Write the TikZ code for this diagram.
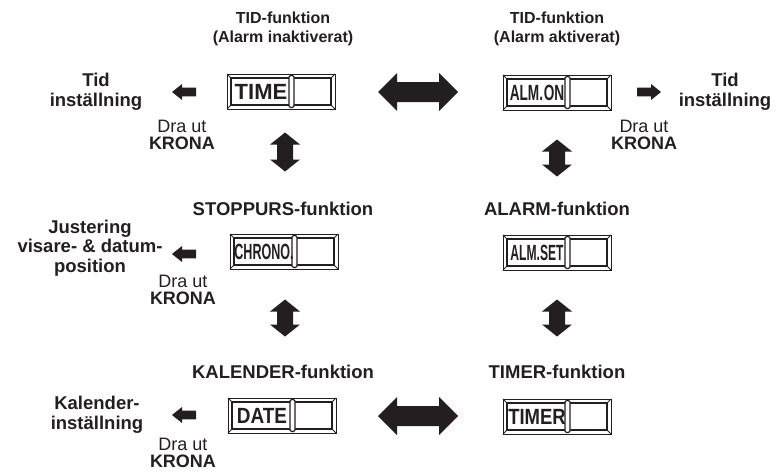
\documentclass[tikz,border=0pt]{standalone}
\usepackage{fontspec}
\setmainfont{Liberation Sans}
\definecolor{ink}{HTML}{231F20}

\tikzset{
  title/.style={font=\bfseries\fontsize{16}{18.5}\selectfont, align=center, text=ink, inner sep=0pt},
  bigtitle/.style={font=\bfseries\fontsize{18.5}{20}\selectfont, align=center, text=ink, inner sep=0pt},
  side/.style={font=\bfseries\fontsize{18.5}{19.5}\selectfont, align=center, text=ink, inner sep=0pt},
  pull/.style={font=\fontsize{18}{17}\selectfont, align=center, text=ink, inner sep=0pt},
  frame/.style={draw=ink, line width=0.9pt},
  lcdtext/.style={font=\bfseries\fontsize{22}{22}\selectfont, text=ink, inner sep=0pt},
  arrowfill/.style={fill=ink},
}

% watch-mode display: bevelled window with a slider bar
% #1 node name, #2 left, #3 top, #4 text, #5 horizontal squeeze
\newcommand\lcdwin[5]{%
  \begin{scope}[shift={(#2,#3)}]
    \draw[frame] (0,0) rectangle (108,35);
    \draw[frame, line width=1.3pt] (4,4) rectangle (104,31);
    \draw[frame] (0,0) -- (4,4) (108,0) -- (104,4) (0,35) -- (4,31) (108,35) -- (104,31);
    \draw[frame, line width=1.1pt, fill=white, rounded corners=1.5pt] (62,1.5) rectangle (67,33.5);
    \node[lcdtext] (#1) at (34,17.5) {\scalebox{#5}[1]{#4}};
  \end{scope}}

% double-headed block arrow centred at the scope origin, pointing along x
% #1 half length, #2 head half width, #3 shaft half width, #4 head length
\newcommand\dblarrow[4]{%
  \fill[arrowfill] (-#1,0) -- ({-#1+#4},-#2) -- ({-#1+#4},-#3) -- ({#1-#4},-#3)
    -- ({#1-#4},-#2) -- (#1,0) -- ({#1-#4},#2) -- ({#1-#4},#3) -- ({-#1+#4},#3)
    -- ({-#1+#4},#2) -- cycle;}

% single block arrow, tip at the scope origin, pointing towards -x
\newcommand\sglarrow{%
  \fill[arrowfill] (0,0) -- (10,-8) -- (10,-4.3) -- (24,-4.3) -- (24,4.3) -- (10,4.3)
    -- (10,8) -- cycle;}

\begin{document}
\begin{tikzpicture}[x=1pt, y=-1pt]
\useasboundingbox (0,0) rectangle (776,471);

% displays
\lcdwin{time}{227}{74}{TIME}{1.0}
\lcdwin{almon}{503}{75}{ALM.\kern1pt ON}{0.62}
\lcdwin{chrono}{230}{234}{CHRONO.}{0.57}
\lcdwin{almset}{503}{235}{ALM.SET}{0.55}
\lcdwin{date}{228}{398}{DATE}{0.86}
\lcdwin{timer}{503}{399}{TIMER}{0.84}

% mode titles
\node[title] (t1) at (283,29) {TID-funktion\\(Alarm inaktiverat)};
\node[title] (t2) at (557,29) {TID-funktion\\(Alarm aktiverat)};
\node[bigtitle] (t3) at (283,209) {STOPPURS-funktion};
\node[bigtitle] (t4) at (557,209) {ALARM-funktion};
\node[bigtitle] (t5) at (283,372) {KALENDER-funktion};
\node[bigtitle] (t6) at (557,372) {TIMER-funktion};

% mode changes
\begin{scope}[shift={(418,92)}]\dblarrow{40}{19}{10}{19}\end{scope}
\begin{scope}[shift={(418,416)}]\dblarrow{40}{19}{10}{19}\end{scope}
\begin{scope}[shift={(285,152)}, rotate=90]\dblarrow{19.5}{15}{8}{12}\end{scope}
\begin{scope}[shift={(557,158)}, rotate=90]\dblarrow{18.5}{15}{8}{12}\end{scope}
\begin{scope}[shift={(285,318)}, rotate=90]\dblarrow{18.5}{15}{8}{12}\end{scope}
\begin{scope}[shift={(557,318)}, rotate=90]\dblarrow{18.5}{15}{8}{12}\end{scope}

% crown pulled out
\begin{scope}[shift={(172,92)}]\sglarrow\end{scope}
\begin{scope}[shift={(661,92)}, xscale=-1]\sglarrow\end{scope}
\begin{scope}[shift={(172,254)}]\sglarrow\end{scope}
\begin{scope}[shift={(172,415)}]\sglarrow\end{scope}

\node[side] (s1) at (96,92) {Tid\\inställning};
\node[side] (s2) at (725,92) {Tid\\inställning};
\node[side] (s3) at (90,248) {Justering\\visare- \& datum-\\position};
\node[side] (s4) at (97,415) {Kalender-\\inställning};

\node[pull] (p1) at (182,135) {Dra ut\\\textbf{KRONA}};
\node[pull] (p2) at (644,135) {Dra ut\\\textbf{KRONA}};
\node[pull] (p3) at (183,290) {Dra ut\\\textbf{KRONA}};
\node[pull] (p4) at (183,453) {Dra ut\\\textbf{KRONA}};
\end{tikzpicture}
\end{document}
